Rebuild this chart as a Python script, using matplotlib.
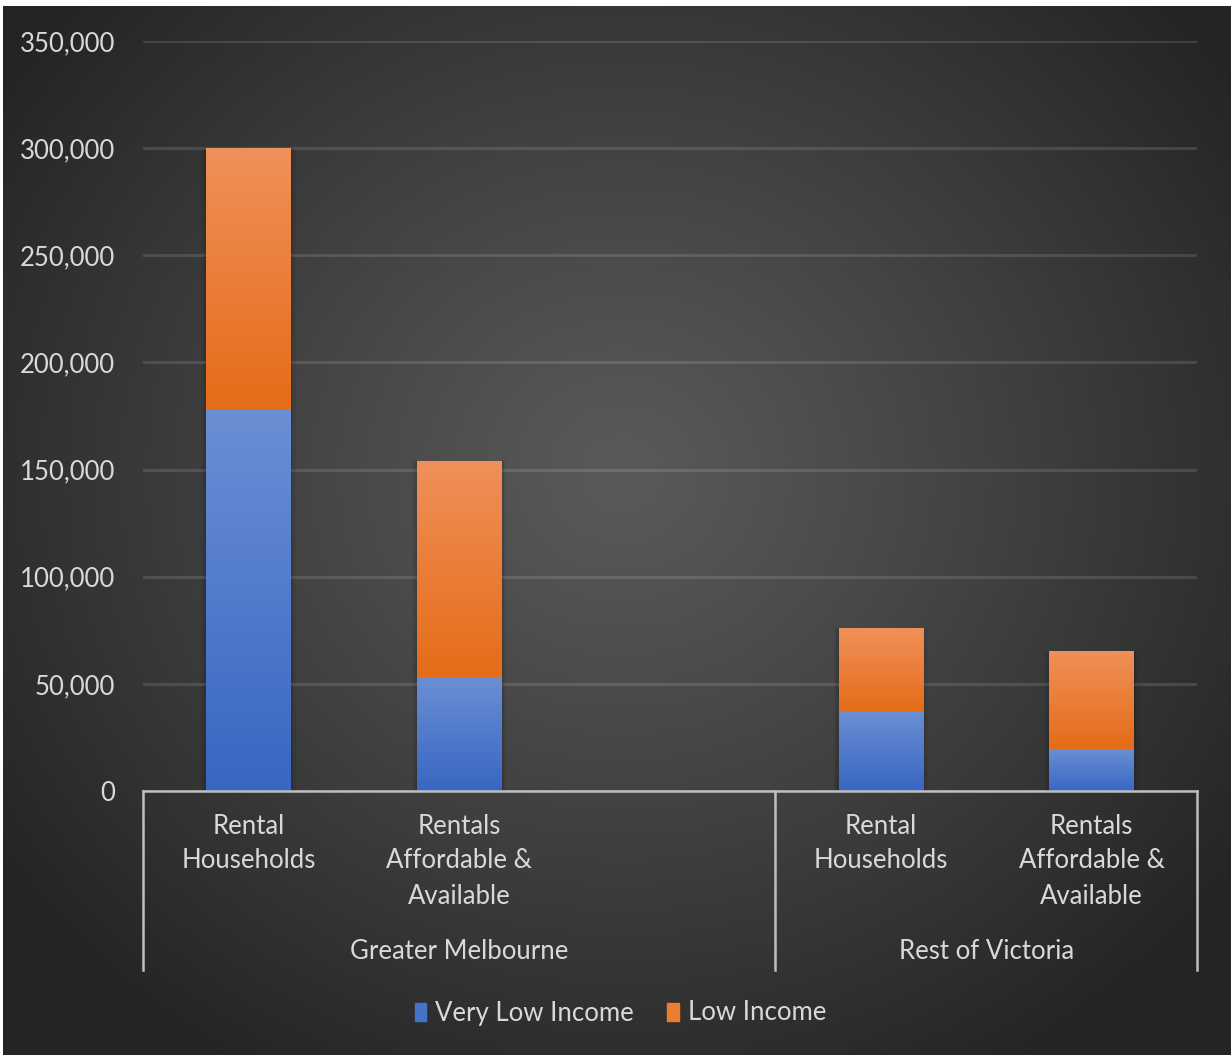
import numpy as np
import matplotlib
matplotlib.use("Agg")
import matplotlib.pyplot as plt
import matplotlib.transforms as mtransforms
from matplotlib.patches import Patch

plt.rcParams['font.family'] = ['Lato', 'DejaVu Sans']

# data (blank category sits at the end of Greater Melbourne, as in the original)
categories = ["Rental\nHouseholds", "Rentals\nAffordable &\nAvailable", "",
              "Rental\nHouseholds", "Rentals\nAffordable &\nAvailable"]
very_low_income = [178000, 53000, np.nan, 37000, 19500]
low_income = [122000, 101000, np.nan, 39000, 46000]
groups = ["Greater Melbourne", "Rest of Victoria"]
group_sizes = [3, 2]
yticks = [0, 50000, 100000, 150000, 200000, 250000, 300000, 350000]

W, H = 1231, 1055
FS = 18.5
TXT = "#d9d9d9"
fig = plt.figure(figsize=(W / 100, H / 100), dpi=100, facecolor="white")

# radial dark background
bg = fig.add_axes([3 / W, 0, 1 - 3 / W, (H - 6) / H])
bg.set_axis_off()
yy, xx = np.mgrid[0:H, 0:W]
d = np.sqrt(((xx - 620) / 760.0) ** 2 + ((yy - 470) / 700.0) ** 2)
d = np.clip(d, 0, 1)
shade = 0x5a / 255 - (0x5a - 0x24) / 255 * d ** 1.1
bg.imshow(np.dstack([shade] * 3), aspect="auto", interpolation="bilinear")

ax = fig.add_axes([143 / W, (H - 791) / H, (1197 - 143) / W, 750 / H])
ax.set_facecolor("none")
ax.set_xlim(-0.5, len(categories) - 0.5)
ax.set_ylim(0, 350000)
for s in ax.spines.values():
    s.set_visible(False)

ax.set_yticks(yticks)
ax.set_yticklabels([f"{v:,}" for v in yticks], color=TXT, fontsize=FS)
ax.tick_params(axis="y", length=0, pad=20)
ax.set_xticks([])
ax.grid(axis="y", color="#ffffff", alpha=0.13, linewidth=2)
ax.set_axisbelow(True)

x = np.arange(len(categories))
vli = np.array(very_low_income, dtype=float)
li = np.array(low_income, dtype=float)


def gradient_bars(bars, top_col, bot_col):
    grad = np.linspace(0, 1, 256).reshape(-1, 1)
    top = np.array(matplotlib.colors.to_rgb(top_col))
    bot = np.array(matplotlib.colors.to_rgb(bot_col))
    img = top[None, None, :] * (1 - grad[..., None]) + bot[None, None, :] * grad[..., None]
    for b in bars:
        if np.isnan(b.get_height()) or b.get_height() == 0:
            continue
        x0, y0 = b.get_x(), b.get_y()
        im = ax.imshow(img, extent=[x0, x0 + b.get_width(), y0, y0 + b.get_height()],
                       aspect="auto", zorder=3, origin="upper")
        im.set_clip_path(b)


width = 0.4
# soft shadows
for dx, a in [(0.012, 0.10), (0.024, 0.06)]:
    ax.bar(x, np.nan_to_num(vli + li), width + 2 * dx, color="black", alpha=a, zorder=2)
b1 = ax.bar(x, vli, width, color="#4472C4", zorder=3)
b2 = ax.bar(x, li, width, bottom=vli, color="#ED7D31", zorder=3)
gradient_bars(b1, "#6a8fd4", "#3866c2")
gradient_bars(b2, "#f0905a", "#e56c18")

# category axis with group brackets
trans = mtransforms.blended_transform_factory(ax.transData, ax.transAxes)
line_kw = dict(color="#bfbfbf", linewidth=1.8, clip_on=False, transform=trans)
ax.plot([-0.5, len(categories) - 0.5], [0, 0], zorder=5, **line_kw)
bottom = -0.239
edge = -0.5
ax.plot([edge, edge], [0, bottom], **line_kw)
for name, n in zip(groups, group_sizes):
    ax.plot([edge + n, edge + n], [0, bottom], **line_kw)
    ax.text(edge + n / 2, -0.214, name, transform=trans, ha="center", va="center",
            color=TXT, fontsize=FS)
    edge += n
for xi, c in zip(x, categories):
    ax.text(xi, -0.030, c, transform=trans, ha="center", va="top",
            color=TXT, fontsize=FS, linespacing=1.5)

handles = [Patch(color="#4472C4", label="Very Low Income"),
           Patch(color="#ED7D31", label="Low Income")]
fig.legend(handles=handles, loc="center", bbox_to_anchor=(0.504, (H - 1013) / H),
           ncol=2, frameon=False, fontsize=FS, labelcolor=TXT,
           handlelength=0.45, handleheight=0.7, handletextpad=0.35, columnspacing=1.3)

plt.savefig("out.png", dpi=100, facecolor="white")
